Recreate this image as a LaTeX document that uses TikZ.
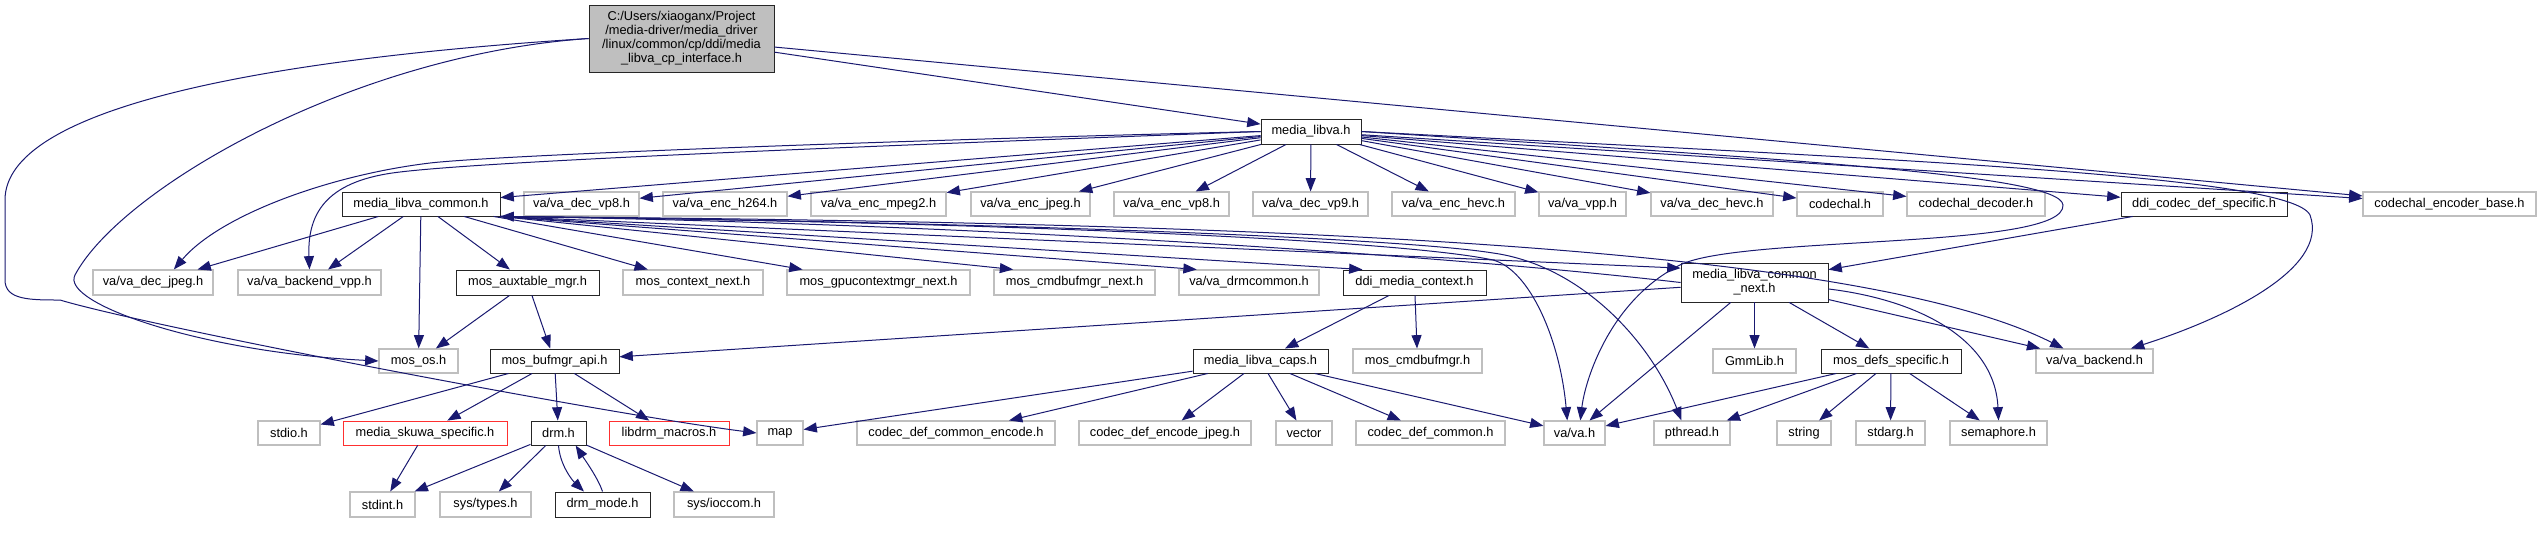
\documentclass[tikz,border=0pt]{standalone}
\usepackage{fontspec}
\setmainfont{Liberation Sans}
\usepackage{tikz}
\usetikzlibrary{arrows.meta}
\definecolor{edgeblue}{HTML}{191970}
\definecolor{boxgray}{HTML}{BFBFBF}
\definecolor{boxred}{HTML}{FF3030}

\begin{document}
\begin{tikzpicture}[x=0.75pt, y=-0.75pt, >={Triangle[length=10pt,width=7.5pt]},
  hd/.style={rectangle, draw=boxgray, fill=white, line width=0.8pt, inner sep=0pt, minimum height=18pt, font={\fontsize{9.6pt}{10.5pt}\selectfont}},
  dc/.style={hd, draw=black!85, line width=0.7pt},
  rd/.style={hd, draw=boxred, line width=0.6pt},
  bw/.style={minimum width=#1*0.75pt},
  dep/.style={->, draw=edgeblue, line width=0.75pt}]
\useasboundingbox (0,0) rectangle (2541,544);

\node[dc, fill=boxgray, bw=185, minimum height=50.25pt, align=center] (cpif) at (681.5,38.5) {C:/Users/xiaoganx/Project\\/media-driver/media\_driver\\/linux/common/cp/ddi/media\\\_libva\_cp\_interface.h};
\node[dc, bw=100, minimum height=18.75pt] (libva) at (1311,131.5) {media\_libva.h};

\node[dc, bw=158] (lvcommon) at (421,204) {media\_libva\_common.h};
\node[hd, bw=115] (decvp8) at (581.5,204) {va/va\_dec\_vp8.h};
\node[hd, bw=124] (ench264) at (725,204) {va/va\_enc\_h264.h};
\node[hd, bw=135] (encmpeg2) at (878.5,204) {va/va\_enc\_mpeg2.h};
\node[hd, bw=119] (encjpeg) at (1030.5,204) {va/va\_enc\_jpeg.h};
\node[hd, bw=115] (encvp8) at (1171.5,204) {va/va\_enc\_vp8.h};
\node[hd, bw=115] (decvp9) at (1310.5,204) {va/va\_dec\_vp9.h};
\node[hd, bw=123] (enchevc) at (1453.5,204) {va/va\_enc\_hevc.h};
\node[hd, bw=87] (vavpp) at (1582.5,204) {va/va\_vpp.h};
\node[hd, bw=122] (dechevc) at (1712,204) {va/va\_dec\_hevc.h};
\node[hd, bw=86] (codechal) at (1840,204) {codechal.h};
\node[hd, bw=138] (chdec) at (1976,204) {codechal\_decoder.h};
\node[dc, bw=166] (ddicodec) at (2204,204) {ddi\_codec\_def\_specific.h};
\node[hd, bw=173] (chenc) at (2449.5,204) {codechal\_encoder\_base.h};

\node[hd, bw=120, minimum height=18.75pt] (decjpeg) at (153,282.5) {va/va\_dec\_jpeg.h};
\node[hd, bw=143, minimum height=18.75pt] (backvpp) at (309.5,282.5) {va/va\_backend\_vpp.h};
\node[dc, bw=143, minimum height=18.75pt] (auxtab) at (527.5,282.5) {mos\_auxtable\_mgr.h};
\node[hd, bw=140, minimum height=18.75pt] (ctxnext) at (693,282.5) {mos\_context\_next.h};
\node[hd, bw=183, minimum height=18.75pt] (gpuctx) at (878.5,282.5) {mos\_gpucontextmgr\_next.h};
\node[hd, bw=161, minimum height=18.75pt] (cmdnext) at (1074.5,282.5) {mos\_cmdbufmgr\_next.h};
\node[hd, bw=140, minimum height=18.75pt] (drmcom) at (1249,282.5) {va/va\_drmcommon.h};
\node[dc, bw=143, minimum height=18.75pt] (mediactx) at (1414.5,282.5) {ddi\_media\_context.h};
\node[dc, bw=147, minimum height=29.25pt, align=center] (lvnext) at (1754.5,282.5) {media\_libva\_common\\\_next.h};

\node[hd, bw=79] (mosos) at (418.5,361) {mos\_os.h};
\node[dc, bw=129] (bufmgr) at (554.5,361) {mos\_bufmgr\_api.h};
\node[dc, bw=135] (caps) at (1260.5,361) {media\_libva\_caps.h};
\node[hd, bw=129] (cmdbuf) at (1417.5,361) {mos\_cmdbufmgr.h};
\node[hd, bw=83] (gmm) at (1754.5,361) {GmmLib.h};
\node[dc, bw=140] (defs) at (1891,361) {mos\_defs\_specific.h};
\node[hd, bw=117] (backend) at (2094.5,361) {va/va\_backend.h};

\node[hd, bw=62] (stdio) at (289,433) {stdio.h};
\node[rd, bw=164] (skuwa) at (425,433) {media\_skuwa\_specific.h};
\node[dc, bw=55] (drm) at (558.5,433) {drm.h};
\node[rd, bw=120] (drmmac) at (669,433) {libdrm\_macros.h};
\node[hd, bw=46] (map) at (780,433) {map};
\node[hd, bw=198] (cdcenc) at (956,433) {codec\_def\_common\_encode.h};
\node[hd, bw=172] (cdejpeg) at (1165,433) {codec\_def\_encode\_jpeg.h};
\node[hd, bw=56] (vector) at (1304,433) {vector};
\node[hd, bw=149] (cdc) at (1430.5,433) {codec\_def\_common.h};
\node[hd, bw=61] (vah) at (1574.5,433) {va/va.h};
\node[hd, bw=76] (pthread) at (1692,433) {pthread.h};
\node[hd, bw=54] (string) at (1804,433) {string};
\node[hd, bw=69] (stdarg) at (1890.5,433) {stdarg.h};
\node[hd, bw=97] (sema) at (1998.5,433) {semaphore.h};

\node[hd, bw=65, minimum height=18.75pt] (stdint) at (382.5,504.5) {stdint.h};
\node[hd, bw=91, minimum height=18.75pt] (systypes) at (485.5,504.5) {sys/types.h};
\node[dc, bw=95, minimum height=18.75pt] (drmmode) at (602.5,504.5) {drm\_mode.h};
\node[hd, bw=100, minimum height=18.75pt] (ioccom) at (724,504.5) {sys/ioccom.h};

\draw[dep] (cpif) -- (libva);
\draw[dep] (cpif) -- (chenc);
\draw[dep] (cpif.west) .. controls (350,55) and (120,190) .. (75,275) .. controls (60,303) and (200,352) .. (mosos.west);
\draw[dep] (cpif.west) .. controls (250,60) and (5,110) .. (5,200) -- (5,280) .. controls (5,300) and (30,300) .. (60,300) .. controls (150,327) and (600,413) .. (map.west);

\draw[dep] (libva) -- (lvcommon);
\draw[dep] (libva) -- (decvp8);
\draw[dep] (libva) -- (ench264);
\draw[dep] (libva) -- (encmpeg2);
\draw[dep] (libva) -- (encjpeg);
\draw[dep] (libva) -- (encvp8);
\draw[dep] (libva) -- (decvp9);
\draw[dep] (libva) -- (enchevc);
\draw[dep] (libva) -- (vavpp);
\draw[dep] (libva) -- (dechevc);
\draw[dep] (libva) -- (codechal);
\draw[dep] (libva) -- (chdec);
\draw[dep] (libva) -- (ddicodec);
\draw[dep] (libva) -- (chenc);
\draw[dep] (libva.west) .. controls (900,140) and (500,155) .. (430,163) .. controls (330,175) and (220,215) .. (decjpeg.32);
\draw[dep] (libva.west) .. controls (900,145) and (500,160) .. (400,172) .. controls (330,180) and (307,210) .. (backvpp.north);
\draw[dep] (libva.east) .. controls (1900,160) and (2290,175) .. (2310,215) .. controls (2330,270) and (2220,320) .. (backend.19);
\draw[dep] (libva.east) .. controls (1800,160) and (2060,175) .. (2063,205) .. controls (2066,250) and (1740,235) .. (1680,265) .. controls (1610,300) and (1585,380) .. (vah.65);

\draw[dep] (lvcommon) -- (decjpeg);
\draw[dep] (lvcommon) -- (backvpp);
\draw[dep] (lvcommon) -- (mosos);
\draw[dep] (lvcommon) -- (auxtab);
\draw[dep] (lvcommon) -- (ctxnext);
\draw[dep] (lvcommon) -- (gpuctx);
\draw[dep] (lvcommon.south east) -- (cmdnext.168);
\draw[dep] (lvcommon.south east) -- (drmcom.166);
\draw[dep] (lvcommon.south east) -- (mediactx.166);
\draw[dep] (lvcommon.south east) -- (lvnext.169);
\draw[dep] (lvcommon.south east) .. controls (1000,222) and (1400,240) .. (1493,260) .. controls (1530,270) and (1560,340) .. (vah.120);
\draw[dep] (lvcommon.south east) .. controls (1000,222) and (1400,238) .. (1493,253) .. controls (1580,265) and (1650,340) .. (pthread.130);
\draw[dep] (lvcommon.south east) .. controls (1200,222) and (1850,240) .. (backend.158);

\draw[dep] (lvnext.west) .. controls (1400,250) and (900,222) .. (lvcommon.south east);
\draw[dep] (lvnext) -- (bufmgr);
\draw[dep] (lvnext) -- (vah);
\draw[dep] (lvnext) -- (gmm);
\draw[dep] (lvnext) -- (defs);
\draw[dep] (lvnext) -- (backend);
\draw[dep] (lvnext.-5) .. controls (1920,300) and (1995,340) .. (sema.north);
\draw[dep] (ddicodec) -- (lvnext);

\draw[dep] (auxtab) -- (mosos);
\draw[dep] (auxtab) -- (bufmgr);
\draw[dep] (bufmgr) -- (stdio);
\draw[dep] (bufmgr) -- (skuwa);
\draw[dep] (bufmgr) -- (drm);
\draw[dep] (bufmgr) -- (drmmac);
\draw[dep] (skuwa) -- (stdint);
\draw[dep] (drm) -- (stdint);
\draw[dep] (drm) -- (systypes);
\draw[dep] (drm) -- (ioccom);
\draw[dep] (drm.south) .. controls (560,465) and (572,480) .. (drmmode.145);
\draw[dep] (drmmode.north) .. controls (598,478) and (585,460) .. (drm.-36);

\draw[dep] (mediactx) -- (caps);
\draw[dep] (mediactx) -- (cmdbuf);
\draw[dep] (caps) -- (map);
\draw[dep] (caps) -- (cdcenc);
\draw[dep] (caps) -- (cdejpeg);
\draw[dep] (caps) -- (vector);
\draw[dep] (caps) -- (cdc);
\draw[dep] (caps) -- (vah);

\draw[dep] (defs) -- (vah);
\draw[dep] (defs) -- (pthread);
\draw[dep] (defs) -- (string);
\draw[dep] (defs) -- (stdarg);
\draw[dep] (defs) -- (sema);
\end{tikzpicture}
\end{document}
